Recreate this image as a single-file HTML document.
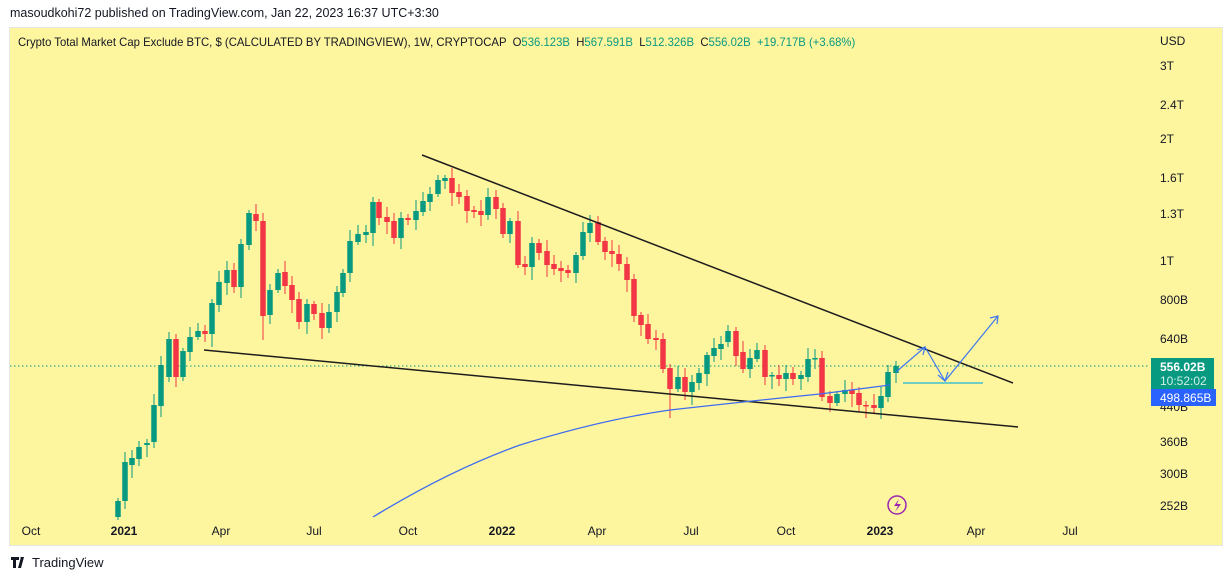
<!DOCTYPE html><html><head><style>
body{margin:0;width:1231px;height:580px;background:#fff;font-family:"Liberation Sans",sans-serif;position:relative;overflow:hidden}
.t{position:absolute;font-size:12px;color:#131722;white-space:nowrap}
</style></head><body>
<div class="t" style="left:10px;top:6px;font-size:12.5px">masoudkohi72 published on TradingView.com, Jan 22, 2023 16:37 UTC+3:30</div>
<div style="position:absolute;left:9px;top:27px;width:1212px;height:517px;background:#fef59f;border:1px solid #e6e6e0"></div>
<svg width="1231" height="580" style="position:absolute;left:0;top:0" id="s" font-family="Liberation Sans, sans-serif">
<line x1="10" y1="366" x2="1150" y2="366" stroke="#089981" stroke-dasharray="1.5 2.5" stroke-width="1"/>
<g id="c"></g>
<line x1="422" y1="155" x2="1013" y2="383" stroke="#1d1d1d" stroke-width="1.5"/>
<line x1="204" y1="350" x2="1018" y2="427" stroke="#1d1d1d" stroke-width="1.5"/>
<path d="M373 517 Q 450 470 520 445 Q 600 420 670 410 Q 760 400 820 394 Q 860 389 890 385" fill="none" stroke="#3d6cf0" stroke-width="1.3"/>
<path d="M896 372 L925 347 L945 381 L998 316" fill="none" stroke="#3d78f0" stroke-width="1.2"/>
<path d="M917 350 L925 347 L923 355 M938 375 L945 381 L948 372 M990 318 L998 316 L997 324" fill="none" stroke="#3d78f0" stroke-width="1.2"/>
<line x1="903" y1="383" x2="983" y2="383" stroke="#40c0d0" stroke-width="1.5"/>
<circle cx="897" cy="505" r="9" fill="none" stroke="#9c27b0" stroke-width="1.5"/>
<path d="M899 499 L894 506 L898 506 L895 512 L901 504 L897 504 Z" fill="#9c27b0"/>
<g font-size="12" fill="#131722">
<text x="1160" y="45">USD</text><text x="1160" y="70">3T</text><text x="1160" y="109">2.4T</text><text x="1160" y="143">2T</text><text x="1160" y="182">1.6T</text><text x="1160" y="218">1.3T</text><text x="1160" y="265">1T</text><text x="1160" y="304">800B</text><text x="1160" y="343">640B</text><text x="1160" y="411">440B</text><text x="1160" y="446">360B</text><text x="1160" y="478">300B</text><text x="1160" y="510">252B</text>
</g>
<rect x="1151" y="358" width="63" height="31" fill="#089981"/>
<text x="1160" y="371" font-size="12" fill="#fff" font-weight="bold">556.02B</text>
<text x="1160" y="385" font-size="12" fill="#d0f0e8">10:52:02</text>
<rect x="1151" y="389" width="65" height="17" fill="#2962ff"/>
<text x="1160" y="402" font-size="12" fill="#fff">498.865B</text>
<g font-size="12" fill="#131722" text-anchor="middle">
<text x="31" y="535">Oct</text><text x="124" y="535" font-weight="bold">2021</text><text x="221" y="535">Apr</text><text x="314" y="535">Jul</text><text x="408" y="535">Oct</text><text x="502" y="535" font-weight="bold">2022</text><text x="597" y="535">Apr</text><text x="691" y="535">Jul</text><text x="786" y="535">Oct</text><text x="880" y="535" font-weight="bold">2023</text><text x="976" y="535">Apr</text><text x="1070" y="535">Jul</text>
</g>
<path d="M11 557 h8 v3 h-3 v8 h-3 v-8 h-2 z M21 557 h3 l-3 11 h-3 z M20 557 h3 v3 z" fill="#131722"/>
<text x="32" y="567" font-size="13" fill="#131722">TradingView</text>
</svg>
<div class="t" style="left:18px;top:35px;transform:scaleX(0.944);transform-origin:0 0">Crypto Total Market Cap Exclude BTC, $ (CALCULATED BY TRADINGVIEW), 1W, CRYPTOCAP &nbsp;O<span style="color:#089981">536.123B</span> &nbsp;H<span style="color:#089981">567.591B</span> &nbsp;L<span style="color:#089981">512.326B</span> &nbsp;C<span style="color:#089981">556.02B</span> &nbsp;<span style="color:#089981">+19.717B (+3.68%)</span></div>
<script>
var d=[[118,517,501],[125,501,462],[132,465,458],[139,459,447],[147,445,443],[154,442,405],[161,406,365],[169,377,339],[176,339,377],[183,377,351],[190,352,337],[198,337,331],[205,331,334],[212,334,303],[219,305,282],[227,283,270],[234,270,287],[241,287,244],[249,245,213],[256,214,221],[263,221,316],[270,315,290],[278,290,273],[285,272,286],[292,285,300],[299,299,322],[307,322,304],[314,304,314],[322,313,328],[329,328,312],[337,312,292],[343,293,273],[350,273,241],[358,242,234],[366,235,232],[373,233,202],[379,202,218],[387,217,222],[394,221,238],[401,238,218],[408,218,220],[416,220,211],[423,212,201],[430,202,194],[438,194,180],[445,181,178],[452,178,193],[459,192,197],[467,196,211],[474,210,212],[481,211,215],[488,215,197],[496,197,209],[503,208,234],[510,234,221],[518,221,265],[525,264,267],[532,267,243],[539,243,253],[547,251,265],[554,264,269],[561,268,271],[568,270,273],[576,273,255],[583,256,232],[590,233,223],[598,222,242],[605,241,252],[612,251,254],[619,254,264],[627,264,280],[634,279,316],[641,315,325],[648,324,339],[656,338,340],[663,339,369],[670,368,389],[678,389,377],[685,377,392],[692,392,382],[699,383,373],[707,374,355],[714,356,348],[721,349,344],[728,342,331],[736,331,356],[743,352,369],[750,369,358],[757,359,350],[765,350,377],[772,376,375],[779,375,379],[786,379,373],[793,373,379],[801,379,375],[808,377,359],[815,359,358],[822,358,397],[830,396,403],[837,403,394],[845,394,390],[852,390,394],[859,393,405],[866,405,406],[874,405,408],[881,408,396],[888,397,372],[896,373,366]];
var g=document.getElementById('c'),h='';
d.forEach(function(e,i){var x=e[0],o=e[1],c=e[2],up=c<o,col=up?'#089981':'#f23645';var t=Math.min(o,c),b=Math.max(o,c);var hi=t-3-(i*7%9),lo=b+3+(i*5%11);if(x==263||x==670)lo+=20;
h+='<line x1="'+x+'" y1="'+hi+'" x2="'+x+'" y2="'+lo+'" stroke="'+col+'" stroke-width="1"/><rect x="'+(x-2.75)+'" y="'+t+'" width="5.5" height="'+Math.max(b-t,1.5)+'" fill="'+col+'"/>';});
g.innerHTML=h;
</script>
</body></html>
